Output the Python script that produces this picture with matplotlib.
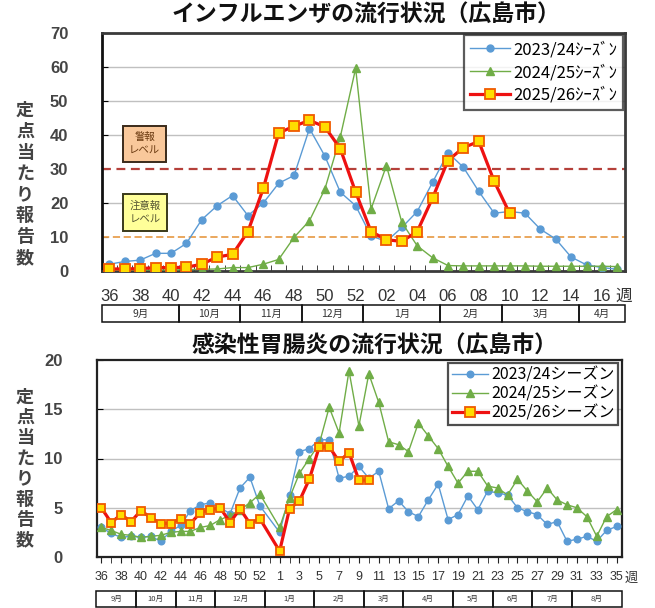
import numpy as np
import matplotlib
matplotlib.use('Agg')
import matplotlib.pyplot as plt
import matplotlib.transforms as mtransforms
from matplotlib.patches import Rectangle
from matplotlib.lines import Line2D

plt.rcParams['font.family'] = ['Liberation Sans', 'Noto Sans CJK JP', 'DejaVu Sans']
JP = ['Noto Sans CJK JP', 'DejaVu Sans']

# ── Influenza (top): weeks 36-52, 1-17 ──────────────────────────────────────
flu_tick_labels = ['36', '38', '40', '42', '44', '46', '48', '50', '52',
                   '02', '04', '06', '08', '10', '12', '14', '16']
flu_2023 = [2.0, 2.8, 3.2, 5.2, 5.2, 8.1, 15.1, 19.2, 22.2, 16.3, 20.0, 25.8,
            28.1, 41.9, 33.8, 23.2, 19.2, 10.3, 8.7, 12.8, 17.5, 26.1, 34.8,
            30.5, 23.4, 17.0, 17.5, 17.0, 12.3, 9.4, 4.1, 1.8, 1.0, 0.5]
flu_2024 = [0.2, 0.2, 0.3, 0.3, 0.3, 0.4, 0.5, 0.6, 1.0, 1.0, 2.0, 3.4, 9.9,
            14.8, 24.1, 39.4, 59.6, 18.2, 31.0, 14.3, 7.4, 3.9, 1.6, 1.5, 1.5,
            1.5, 1.5, 1.5, 1.4, 1.4, 1.4, 1.4, 1.4, 1.3]
flu_2025 = [0.6, 0.6, 0.7, 1.0, 1.0, 1.1, 2.0, 4.1, 4.9, 11.6, 24.3, 40.6,
            42.6, 44.3, 42.4, 36.0, 23.2, 11.6, 9.2, 8.7, 11.6, 21.5, 32.5,
            36.3, 38.1, 26.4, 17.0]
flu_months = ['9月', '10月', '11月', '12月', '1月', '2月', '3月', '4月']
flu_month_weeks = [5, 4, 4, 4, 5, 4, 5, 3]
flu_labels = ['2023/24ｼｰｽﾞﾝ', '2024/25ｼｰｽﾞﾝ', '2025/26ｼｰｽﾞﾝ']
warning_level = 30
caution_level = 10

# ── Gastroenteritis (bottom): weeks 36-53, 1-35 (week 53 empty) ─────────────
gas_tick_labels = ['36', '38', '40', '42', '44', '46', '48', '50', '52',
                   '1', '3', '5', '7', '9', '11', '13', '15', '17', '19', '21',
                   '23', '25', '27', '29', '31', '33', '35']
gas_2023 = [3.0, 2.4, 2.0, 2.1, 2.0, 2.1, 1.6, 2.6, 3.2, 4.7, 5.3, 5.5, 5.0,
            4.4, 7.0, 8.1, 5.2, None,
            2.5, 6.3, 10.7, 11.0, 11.9, 11.9, 8.0, 8.2, 9.2, 8.0, 8.7, 4.9,
            5.7, 4.6, 4.1, 5.8, 7.4, 3.8, 4.3, 6.2, 4.8, 6.7, 6.5, 6.3, 5.0,
            4.6, 4.3, 3.3, 3.6, 1.6, 1.8, 2.1, 1.6, 2.7, 3.1]
gas_2024 = [3.0, 2.7, 2.3, 2.2, 2.0, 2.1, 2.2, 2.5, 2.6, 2.6, 3.0, 3.2, 3.8,
            4.2, 4.8, 5.5, 6.4, None,
            3.0, 6.0, 8.5, 10.0, 11.5, 15.2, 12.6, 18.9, 13.3, 18.6, 15.7,
            11.7, 11.4, 10.7, 13.6, 12.3, 11.0, 9.2, 7.5, 8.7, 8.7, 7.2, 7.0,
            6.3, 7.9, 6.7, 5.6, 7.0, 5.8, 5.3, 5.0, 4.1, 2.1, 4.1, 4.8]
gas_2025 = [5.0, 3.5, 4.3, 3.6, 4.7, 4.0, 3.4, 3.4, 3.9, 3.4, 4.5, 4.8, 5.0,
            3.5, 4.9, 3.4, 3.9, None,
            0.6, 4.9, 5.7, 7.9, 11.2, 11.2, 9.7, 10.6, 7.8, 7.8]
gas_months = ['9月', '10月', '11月', '12月', '1月', '2月', '3月', '4月',
              '5月', '6月', '7月', '8月']
gas_month_weeks = [4, 4, 4, 5, 5, 5, 4, 5, 4, 4, 4, 5]
gas_labels = ['2023/24シーズン', '2024/25シーズン', '2025/26シーズン']

ylabel_text = '定点当たり報告数'

W, H = 655, 608
fig = plt.figure(figsize=(W / 100, H / 100), dpi=100)


def fx(px):
    return px / W


def fy(py):
    return 1 - py / H


ax1 = fig.add_axes([fx(101.7), fy(271), fx(625 - 101.7), (271 - 33) / H])
ax2 = fig.add_axes([fx(97.3), fy(557), fx(622 - 97.3), (557 - 360) / H])

blue, green, red = '#5b9bd5', '#70ad47', '#ee1111'


def plot_series(ax, vals, kind, ms_scale=1.0):
    y = np.array(vals, dtype=float)
    x = np.arange(len(y))
    ok = ~np.isnan(y)
    if kind == 0:
        ax.plot(x[ok], y[ok], color=blue, lw=1.0, marker='o', ms=5 * ms_scale,
                mfc=blue, mec=blue, zorder=3)
    elif kind == 1:
        ax.plot(x[ok], y[ok], color=green, lw=1.0, marker='^', ms=6 * ms_scale,
                mfc=green, mec=green, zorder=4)
    else:
        ax.plot(x[ok], y[ok], color=red, lw=2.3, marker='s', ms=7 * ms_scale,
                mfc='#ffdd00', mec='#f05a00', mew=1.3, zorder=5)


def legend_handles(ms_scale=1.0):
    return [Line2D([], [], color=blue, lw=1.0, marker='o', ms=5 * ms_scale, mfc=blue, mec=blue),
            Line2D([], [], color=green, lw=1.0, marker='^', ms=6 * ms_scale, mfc=green, mec=green),
            Line2D([], [], color=red, lw=2.3, marker='s', ms=7 * ms_scale,
                   mfc='#ffdd00', mec='#f05a00', mew=1.3)]


def month_row(ax, months, counts, y_top, y_bot, fs):
    tr = mtransforms.blended_transform_factory(ax.transData, fig.transFigure)
    edges = np.concatenate([[-0.5], -0.5 + np.cumsum(counts)])
    for i, m in enumerate(months):
        r = Rectangle((edges[i], fy(y_bot)), edges[i + 1] - edges[i],
                      fy(y_top) - fy(y_bot), transform=tr, fill=False,
                      ec='#111111', lw=1.1, clip_on=False)
        fig.add_artist(r)
        t = fig.text(0, 0, m, transform=tr, fontsize=fs, family=JP, color='#333333',
                     ha='center', va='center')
        t.set_position(((edges[i] + edges[i + 1]) / 2, fy((y_top + y_bot) / 2)))


def vertical_label(x, y0, y1, fs):
    ys = np.linspace(y0, y1, len(ylabel_text))
    for ch, yy in zip(ylabel_text, ys):
        fig.text(fx(x), fy(yy), ch, fontsize=fs, family=JP, fontweight='bold',
                 color='#444444', ha='center', va='center')


# ── top chart ───────────────────────────────────────────────────────────────
n_top = len(flu_2023)
ax1.set_xlim(-0.5, n_top - 0.5)
ax1.set_ylim(0, 70)
ax1.set_yticks(np.arange(0, 71, 10))
for v in range(10, 70, 10):
    if v not in (warning_level, caution_level):
        ax1.axhline(v, color='#c0c0c0', lw=1.0, zorder=1)
ax1.axhline(warning_level, color='#b5403a', lw=1.6, ls=(0, (4, 2.5)), zorder=2)
ax1.axhline(caution_level, color='#e8a050', lw=1.3, ls=(0, (4, 2)), zorder=2)
plot_series(ax1, flu_2023, 0)
plot_series(ax1, flu_2024, 1)
plot_series(ax1, flu_2025, 2)
ax1.set_xticks(np.arange(0, n_top - 1, 2))
ax1.set_xticklabels(flu_tick_labels)
ax1.set_xticks(np.arange(-0.5, n_top, 1), minor=True)
ax1.tick_params(axis='x', which='major', length=0, pad=13, labelsize=12, labelcolor='#333333')
ax1.tick_params(axis='x', which='minor', direction='in', length=4, color='#222222')
ax1.tick_params(axis='y', direction='in', length=4, pad=24, labelsize=12, labelcolor='#444444')
for lab in ax1.get_yticklabels():
    lab.set_fontweight('bold')
for s in ax1.spines.values():
    s.set_color('#3a3a3a')
    s.set_linewidth(2.0)
ax1.spines['left'].set_color('#111111')

leg1 = ax1.legend(legend_handles(1.0), flu_labels, loc='upper right',
                  bbox_to_anchor=(0.997, 0.99), prop={'family': JP, 'size': 12},
                  frameon=True, fancybox=False, handlelength=2.4, labelspacing=0.35,
                  borderpad=0.35, handletextpad=0.2, borderaxespad=0)
leg1.get_frame().set_edgecolor('#333333')
leg1.get_frame().set_linewidth(1.6)
leg1.set_zorder(10)

ax1.text(0.082, 0.533, '警報\nレベル', transform=ax1.transAxes, fontsize=7.5,
         family=JP, color='#6b3a10', ha='center', va='center', linespacing=1.5,
         bbox=dict(boxstyle='square,pad=0.6', fc='#f9c89b', ec='#3a2a1a', lw=1.4),
         zorder=6)
ax1.text(0.083, 0.245, '注意報\nレベル', transform=ax1.transAxes, fontsize=7.5,
         family=JP, color='#555533', ha='center', va='center', linespacing=1.5,
         bbox=dict(boxstyle='square,pad=0.6', fc='#ffff99', ec='#3a3a1a', lw=1.4),
         zorder=6)

fig.text(fx(366), fy(15), 'インフルエンザの流行状況（広島市）', fontsize=16.5,
         family=JP, fontweight='bold', ha='center', va='center', color='#111111')
fig.text(fx(624), fy(296), '週', fontsize=12, family=JP, ha='center', va='center',
         color='#333333')
month_row(ax1, flu_months, flu_month_weeks, 305, 322, 7.5)
vertical_label(25, 110, 258, 13)

# ── bottom chart ────────────────────────────────────────────────────────────
n_bot = len(gas_2023)
ax2.set_xlim(-0.4, n_bot - 0.45)
ax2.set_ylim(0, 20)
ax2.set_yticks(np.arange(0, 21, 5))
for v in (5, 10, 15):
    ax2.axhline(v, color='#c0c0c0', lw=1.0, zorder=1)
plot_series(ax2, gas_2023, 0, 0.95)
plot_series(ax2, gas_2024, 1, 0.95)
plot_series(ax2, gas_2025, 2, 0.9)
ax2.set_xticks(np.arange(0, n_bot, 2))
ax2.set_xticklabels(gas_tick_labels)
ax2.set_xticks(np.arange(0, n_bot, 1), minor=True)
ax2.tick_params(axis='x', which='major', direction='out', length=4, pad=6,
                labelsize=9, labelcolor='#333333', color='#222222')
ax2.tick_params(axis='x', which='minor', direction='out', length=4, color='#222222')
ax2.tick_params(axis='y', direction='in', length=4, pad=25, labelsize=12, labelcolor='#444444')
for lab in ax2.get_yticklabels():
    lab.set_fontweight('bold')
for s in ax2.spines.values():
    s.set_color('#222222')
    s.set_linewidth(1.6)

leg2 = ax2.legend(legend_handles(0.95), gas_labels, loc='upper right',
                  bbox_to_anchor=(0.993, 0.985), prop={'family': JP, 'size': 11.5},
                  frameon=True, fancybox=False, handlelength=2.3, labelspacing=0.1,
                  borderpad=0.25, handletextpad=0.15, borderaxespad=0)
leg2.get_frame().set_edgecolor('#222222')
leg2.get_frame().set_linewidth(1.6)
leg2.set_zorder(10)

fig.text(fx(374), fy(346), '感染性胃腸炎の流行状況（広島市）', fontsize=16.5,
         family=JP, fontweight='bold', ha='center', va='center', color='#111111')
fig.text(fx(631), fy(578), '週', fontsize=9.5, family=JP, ha='center', va='center',
         color='#333333')
month_row(ax2, gas_months, gas_month_weeks, 591, 607, 5.5)
vertical_label(25, 397, 540, 13)

fig.savefig('out.png', dpi=100)
